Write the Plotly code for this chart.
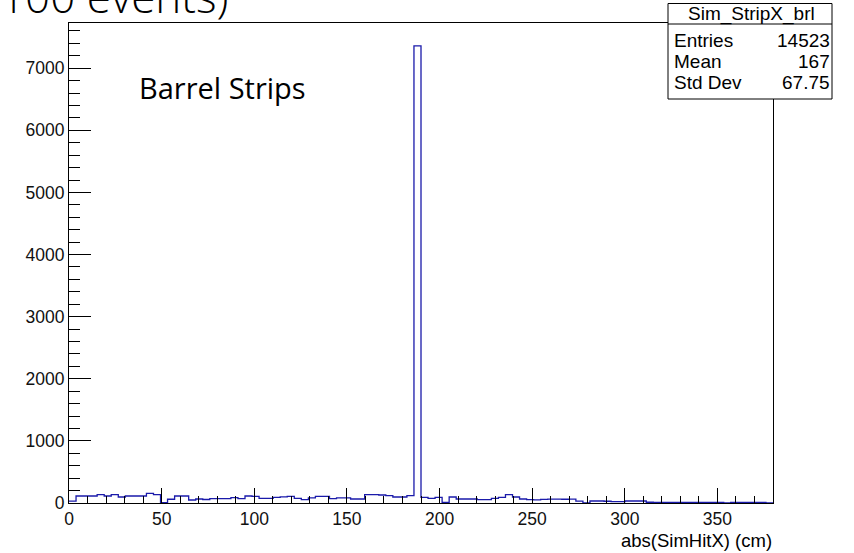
import numpy as np
import plotly.graph_objects as go

# Histogram of |SimHitX| for barrel strip hits: 100 bins over 0-380 cm
x_min, x_max = 0.0, 380.0
counts = [
    30, 113, 113, 113, 134, 113, 134, 97, 113, 113,
    113, 156, 134, 5, 60, 113, 113, 48, 64, 56,
    70, 70, 70, 86, 70, 113, 107, 75, 75, 91,
    100, 107, 75, 54, 81, 107, 107, 70, 81, 81,
    64, 64, 134, 134, 129, 118, 97, 97, 118, 7360,
    91, 75, 91, 11, 97, 64, 64, 64, 54, 54,
    75, 91, 134, 97, 64, 54, 50, 59, 62, 62,
    60, 62, 30, 1, 32, 32, 28, 21, 21, 32,
    32, 32, 12, 10, 11, 9, 10, 11, 10, 9,
    10, 11, 10, 0, 10, 9, 10, 11, 10, 0,
]

hist_name = "Sim_StripX_brl"
stat_labels = ["Entries", "Mean", "Std Dev"]
stat_values = ["14523", "167", "67.75"]
x_title = "abs(SimHitX) (cm)"
panel_label = "Barrel Strips"
header_text = "(100 events)"

edges = np.linspace(x_min, x_max, len(counts) + 1)
step_y = list(counts) + [counts[-1]]
y_max = 1.05 * max(counts)

fig = go.Figure()
fig.add_trace(go.Scatter(
    x=edges, y=step_y, mode="lines", line_shape="hv",
    line=dict(color="#1a1aaa", width=1.3), hoverinfo="skip",
))

tick_font = dict(family="Liberation Sans, Arial, sans-serif", size=17.5, color="#111111")

fig.update_xaxes(
    range=[x_min, x_max], tick0=0, dtick=50, ticks="inside", ticklen=15,
    tickwidth=1, tickcolor="black", tickfont=tick_font,
    minor=dict(dtick=10, ticks="inside", ticklen=7.5, tickwidth=1, tickcolor="black"),
    showgrid=False, zeroline=False, showline=True, mirror=True,
    linecolor="black", linewidth=1,
)
fig.update_yaxes(
    range=[0, y_max], tick0=0, dtick=1000, ticks="inside", ticklen=22,
    tickwidth=1, tickcolor="black", tickfont=tick_font,
    minor=dict(dtick=200, ticks="inside", ticklen=11, tickwidth=1, tickcolor="black"),
    showgrid=False, zeroline=False, showline=True, mirror=True,
    linecolor="black", linewidth=1,
)

# plot frame in pixels: left 69, right 773, top 23, bottom 503
W, H = 854, 553
L, R, T, B = 69, 773, 23, 503
pw, ph = R - L, B - T


def px(x):
    return (x - L) / pw


def py(y):
    return (B - y) / ph


# statistics box
stat_font = dict(family="Liberation Sans, Arial, sans-serif", size=19, color="black")
fig.add_shape(type="rect", xref="paper", yref="paper",
              x0=px(668), x1=px(832), y0=py(99), y1=py(3.5),
              line=dict(color="black", width=1), fillcolor="white", layer="above")
fig.add_shape(type="line", xref="paper", yref="paper",
              x0=px(668), x1=px(832), y0=py(24), y1=py(24),
              line=dict(color="black", width=1), layer="above")
fig.add_annotation(xref="paper", yref="paper", x=px(751), y=py(14),
                   text=hist_name, showarrow=False, font=stat_font,
                   xanchor="center", yanchor="middle")
for i, (lab, val) in enumerate(zip(stat_labels, stat_values)):
    yy = py(41 + 20.5 * i)
    fig.add_annotation(xref="paper", yref="paper", x=px(672), y=yy, text=lab,
                       showarrow=False, font=stat_font, xanchor="left", yanchor="middle")
    fig.add_annotation(xref="paper", yref="paper", x=px(832), y=yy, text=val,
                       showarrow=False, font=stat_font, xanchor="right", yanchor="middle")

# axis title, right-aligned under the axis end
fig.add_annotation(xref="paper", yref="paper", x=1.0, y=py(540), text=x_title,
                   showarrow=False, xanchor="right", yanchor="middle", borderpad=0,
                   font=dict(family="Liberation Sans, Arial, sans-serif", size=18.5, color="black"))

# panel label
fig.add_annotation(xref="paper", yref="paper", x=px(137), y=py(88), text=panel_label,
                   showarrow=False, xanchor="left", yanchor="middle",
                   font=dict(family="Open Sans, sans-serif", size=29, color="black"))

# header text running off the top edge
fig.add_annotation(xref="paper", yref="paper", x=px(230), y=py(28), text=header_text,
                   showarrow=False, xanchor="right", yanchor="bottom",
                   font=dict(family="Open Sans, sans-serif", size=44, color="black", weight=300))

fig.update_layout(
    width=W, height=H,
    margin=dict(l=L, r=W - R, t=T, b=H - B, pad=0),
    paper_bgcolor="white", plot_bgcolor="white",
    showlegend=False,
)

fig.write_html("out.html")
